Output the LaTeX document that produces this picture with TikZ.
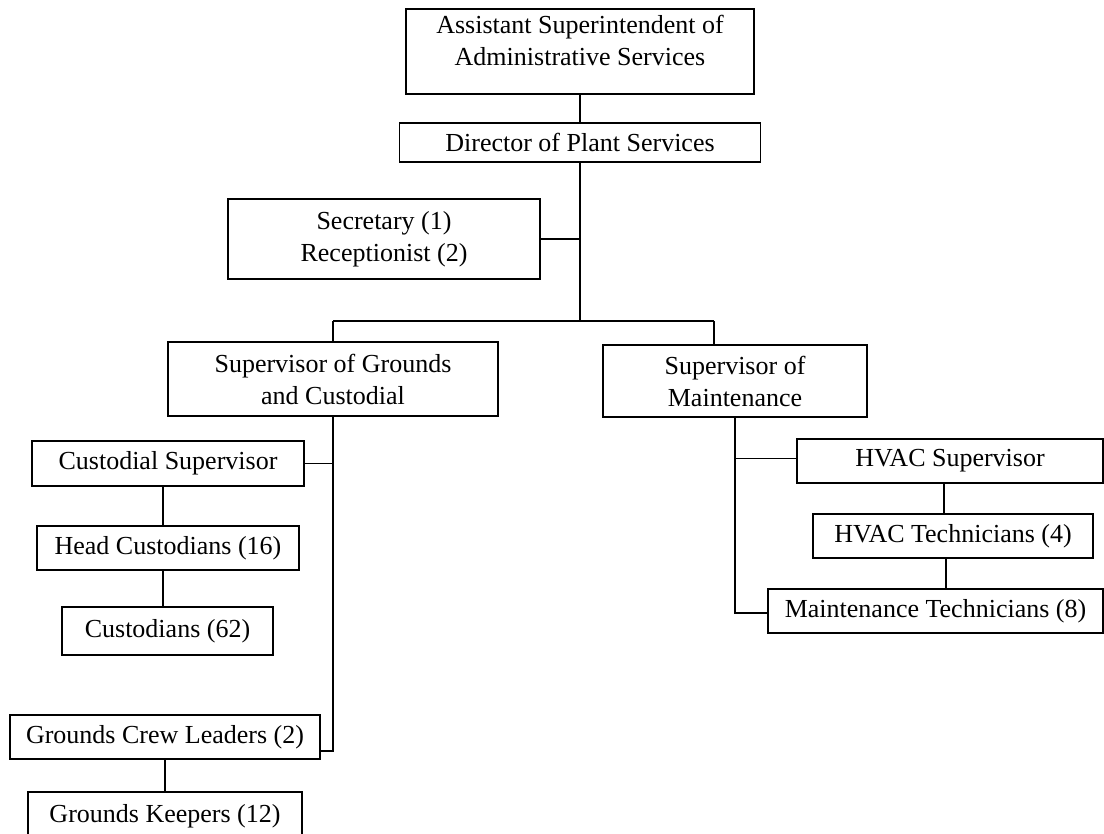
\documentclass[tikz,border=0pt]{standalone}
\usepackage{fontspec}
\setmainfont{Liberation Serif}
\begin{document}
\begin{tikzpicture}[x=0.75pt, y=-0.75pt,
  box/.style={draw=black, line width=0.8pt, inner sep=0pt, align=center,
    font=\fontsize{19.5}{24}\selectfont},
  link/.style={draw=black, line width=0.8pt},
  trunk/.style={draw=black, line width=1.8pt}]
\useasboundingbox (0,0) rectangle (1104,834);
\clip (0,0) rectangle (1104,834);

% top of the chart
\node[box, minimum width=261pt, minimum height=63.75pt,
  label={[anchor=north, yshift=-5pt, inner sep=0pt, align=center,
    font=\fontsize{19.5}{24}\selectfont]north:Assistant Superintendent of\\Administrative Services}]
  (asa) at (580,51.5) {};
\node[box, minimum width=270.75pt, minimum height=29.25pt] (dir) at (580,142.5) {Director of Plant Services};
\node[box, minimum width=234pt, minimum height=60pt] (sec) at (384,239) {Secretary (1)\\Receptionist (2)};

% supervisors
\node[box, minimum width=247.5pt, minimum height=55.5pt] (gsup) at (333,379) {Supervisor of Grounds\\and Custodial};
\node[box, minimum width=198pt, minimum height=54pt] (msup) at (735,381) {Supervisor of\\Maintenance};

% grounds and custodial branch
\node[box, minimum width=204pt, minimum height=33.75pt] (csup) at (168,463.5) {Custodial Supervisor};
\node[box, minimum width=196.5pt, minimum height=33pt] (hcus) at (168,548) {Head Custodians (16)};
\node[box, minimum width=158.25pt, minimum height=36pt] (cust) at (167.5,631) {Custodians (62)};
\node[box, minimum width=232.5pt, minimum height=33pt] (gcl) at (165,737) {Grounds Crew Leaders (2)};
\node[box, minimum width=205.5pt, minimum height=36pt] (gkp) at (165,816) {Grounds Keepers (12)};

% maintenance branch
\node[box, minimum width=229.5pt, minimum height=33pt] (hvs) at (950,461) {HVAC Supervisor};
\node[box, minimum width=210pt, minimum height=33pt] (hvt) at (953,536) {HVAC Technicians (4)};
\node[box, minimum width=251.25pt, minimum height=33pt] (mtec) at (935.5,611) {Maintenance Technicians (8)};

% junction points
\coordinate (bar) at (580,321);
\coordinate (barL) at (333,321);
\coordinate (barR) at (714,321);
\coordinate (gdrop) at (333,751);
\coordinate (mdrop) at (735,613);

% connectors
\draw[link] (asa.south) -- (dir.north);
\draw[trunk] (dir.south) -- (bar);
\draw[link] (sec.east) -- (sec.east -| bar);
\draw[link] (barL) -- (barR);
\draw[link] (barL) -- (gsup.north);
\draw[link] (barR) -- (barR |- msup.north);

\draw[link] (gsup.south) -- (gdrop) -- (gdrop -| gcl.east);
\draw[link] (csup.east) -- (csup.east -| gdrop);
\draw[link] ([xshift=-3.75pt]csup.south) -- ([xshift=-3.75pt]csup.south |- hcus.north);
\draw[link] ([xshift=-3.75pt]hcus.south) -- ([xshift=-3.75pt]hcus.south |- cust.north);
\draw[link] (gcl.south) -- (gkp.north);

\draw[link] (msup.south) -- (mdrop) -- (mdrop -| mtec.west);
\draw[link] ([yshift=2pt]hvs.west) -- ([yshift=2pt]hvs.west -| msup.south);
\draw[link] ([xshift=-4.5pt]hvs.south) -- ([xshift=-4.5pt]hvs.south |- hvt.north);
\draw[link] ([xshift=-5.25pt]hvt.south) -- ([xshift=-5.25pt]hvt.south |- mtec.north);
\end{tikzpicture}
\end{document}
